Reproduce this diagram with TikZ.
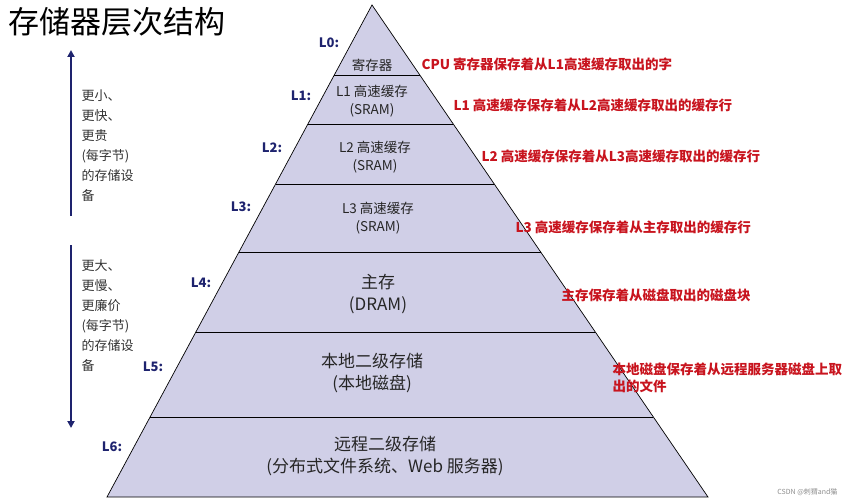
\documentclass[tikz,border=0pt]{standalone}
\usepackage{fontspec}
\setmainfont{Noto Sans CJK SC}
\usetikzlibrary{arrows.meta}
\definecolor{lav}{RGB}{208,207,231}
\definecolor{navy}{RGB}{30,35,110}
\definecolor{redt}{RGB}{200,20,30}
\begin{document}
\begin{tikzpicture}[x=1pt,y=-1pt,
  lay/.style={font=\fontsize{13.5}{18}\selectfont, align=center, text=black!85},
  big/.style={lay, font=\fontsize{17}{22}\selectfont},
  lvl/.style={font=\fontsize{13}{15}\selectfont\bfseries, text=navy},
  note/.style={font=\fontsize{13.5}{17}\selectfont\bfseries, text=redt, anchor=west, align=left},
  side/.style={font=\fontsize{13}{20}\selectfont, text=black!80, anchor=north west, align=left},
  arr/.style={draw=navy, line width=2.2pt, -{Triangle[length=7pt,width=7pt]}}]
\useasboundingbox (0,0) rectangle (843,500);
\coordinate (apex) at (372,5);
\coordinate (bl) at (107,497);
\coordinate (br) at (708,497);
\draw[fill=lav, line width=0.7pt] (apex) -- (br) -- (bl) -- cycle;
\foreach \y/\l/\r in {75/334.3/419.8,124/307.9/453.3,184/275.6/494.2,252/239.0/540.7,332/195.9/595.3,417/150.1/653.4}
  \draw[line width=0.8pt] (\l,\y) -- (\r,\y);
\node[font=\fontsize{31}{34}\selectfont] (title) at (117,22) {存储器层次结构};
\node[lay] (t0) at (372,65) {寄存器};
\node[lay] (t1) at (372,101) {L1 高速缓存\\(SRAM)};
\node[lay] (t2) at (375,157) {L2 高速缓存\\(SRAM)};
\node[lay] (t3) at (378,218) {L3 高速缓存\\(SRAM)};
\node[big] (t4) at (378,294) {主存\\(DRAM)};
\node[big] (t5) at (372,373) {本地二级存储\\(本地磁盘)};
\node[big] (t6) at (385,456) {远程二级存储\\(分布式文件系统、Web 服务器)};
\node[lvl] (l0) at (329,43) {L0:};
\node[lvl] (l1) at (301,96) {L1:};
\node[lvl] (l2) at (272,148) {L2:};
\node[lvl] (l3) at (241,207) {L3:};
\node[lvl] (l4) at (201,283) {L4:};
\node[lvl] (l5) at (153,367) {L5:};
\node[lvl] (l6) at (112,447) {L6:};
\node[note] (n0) at (418,64) {CPU 寄存器保存着从L1高速缓存取出的字};
\node[note] (n1) at (450,105) {L1 高速缓存保存着从L2高速缓存取出的缓存行};
\node[note] (n2) at (478,156) {L2 高速缓存保存着从L3高速缓存取出的缓存行};
\node[note] (n3) at (512,227) {L3 高速缓存保存着从主存取出的缓存行};
\node[note] (n4) at (558,295) {主存保存着从磁盘取出的磁盘块};
\node[note] (n5) at (609,378) {本地磁盘保存着从远程服务器磁盘上取\\出的文件};
\coordinate (a1s) at (71,216);
\coordinate (a1e) at (71,50);
\coordinate (a2s) at (71,245);
\coordinate (a2e) at (71,428);
\draw[arr] (a1s) -- (a1e);
\draw[arr] (a2s) -- (a2e);
\node[side] (s1) at (78,86) {更小、\\更快、\\更贵\\(每字节)\\的存储设\\备};
\node[side] (s2) at (78,256) {更大、\\更慢、\\更廉价\\(每字节)\\的存储设\\备};
\node[font=\fontsize{7}{8}\selectfont, text=black!45, anchor=east] (wm) at (841,492) {CSDN @刺猬and猫};
\end{tikzpicture}
\end{document}
